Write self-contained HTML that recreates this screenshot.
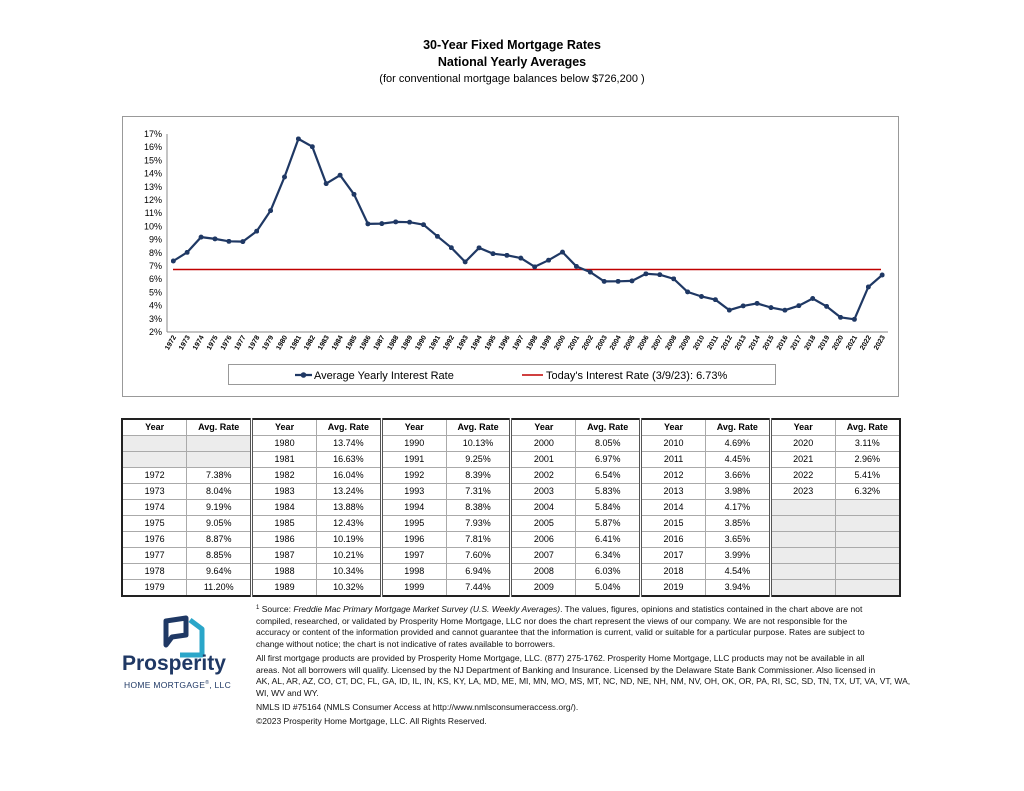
<!DOCTYPE html>
<html><head><meta charset="utf-8"><style>
body{margin:0;width:1024px;height:791px;background:#fff;position:relative;font-family:"Liberation Sans",sans-serif;color:#000;overflow:hidden}
.t{position:absolute;left:0;width:1024px;text-align:center}
table{position:absolute;left:121px;top:418px;border-collapse:collapse;border:2px solid #222;font-size:9px;table-layout:fixed;width:780px}
td{height:15px;line-height:15px;padding:0;text-align:center;border:1px solid #aaa;overflow:hidden;box-sizing:content-box}
td.g{border-left:3px double #555}
td.e{background:#ececec}
tr.h td{font-weight:bold}
.f{position:absolute;left:256px;font-size:8.5px;line-height:11.3px;color:#111;white-space:nowrap}
.f sup{font-size:6px;line-height:0;vertical-align:3px}
</style></head><body>
<div class="t" style="top:38px;font-size:12.5px;font-weight:bold">30-Year Fixed Mortgage Rates</div>
<div class="t" style="top:55px;font-size:12.5px;font-weight:bold">National Yearly Averages</div>
<div class="t" style="top:73px;font-size:11px">(for conventional mortgage balances below $726,200 )</div>

<svg style="position:absolute;left:0;top:0" width="1024" height="400">
<defs><marker id="m" viewBox="0 0 10 10" refX="5" refY="5" markerWidth="5" markerHeight="5" markerUnits="userSpaceOnUse"><circle cx="5" cy="5" r="5" fill="#1f3864"/></marker></defs>
<rect x="122.5" y="116.5" width="776" height="280" fill="#fff" stroke="#999"/>
<line x1="167" y1="134" x2="167" y2="332" stroke="#888"/>
<line x1="167" y1="332" x2="888" y2="332" stroke="#888"/>
<g font-size="9" text-anchor="end" fill="#000">
<text x="162" y="137">17%</text><text x="162" y="150">16%</text><text x="162" y="163.5">15%</text><text x="162" y="176.5">14%</text><text x="162" y="190">13%</text><text x="162" y="203">12%</text><text x="162" y="216">11%</text><text x="162" y="229.5">10%</text><text x="162" y="242.5">9%</text><text x="162" y="256">8%</text><text x="162" y="269">7%</text><text x="162" y="282">6%</text><text x="162" y="295.5">5%</text><text x="162" y="308.5">4%</text><text x="162" y="322">3%</text><text x="162" y="335">2%</text>
</g>
<line x1="173" y1="269.5" x2="881" y2="269.5" stroke="#c00000" stroke-width="1.6"/>
<g transform="translate(173.3,0)">
<polyline fill="none" stroke="#1f3864" stroke-width="2.2" marker-start="url(#m)" marker-mid="url(#m)" marker-end="url(#m)" points="0,261 13.9,252.3 27.8,237.1 41.7,238.9 55.6,241.3 69.5,241.6 83.4,231.2 97.3,210.6 111.2,177 125.1,138.9 139,146.7 152.9,183.6 166.8,175.2 180.7,194.3 194.6,223.9 208.5,223.6 222.4,221.9 236.3,222.2 250.2,224.7 264.1,236.3 278,247.7 291.9,261.9 305.8,247.8 319.7,253.7 333.6,255.3 347.5,258.1 361.4,266.8 375.3,260.2 389.2,252.1 403.1,266.4 417,272.1 430.9,281.4 444.8,281.3 458.7,280.9 472.6,273.8 486.5,274.7 500.4,278.8 514.3,291.9 528.2,296.5 542.1,299.7 556,310.1 569.9,305.9 583.8,303.4 597.7,307.6 611.6,310.2 625.5,305.7 639.4,298.5 653.3,306.4 667.2,317.3 681.1,319.3 695,287 708.9,275"/>
<g font-size="7" font-weight="bold" text-anchor="end">
<text transform="translate(3,337) rotate(-60)">1972</text><text transform="translate(16.9,337) rotate(-60)">1973</text><text transform="translate(30.8,337) rotate(-60)">1974</text><text transform="translate(44.7,337) rotate(-60)">1975</text><text transform="translate(58.6,337) rotate(-60)">1976</text><text transform="translate(72.5,337) rotate(-60)">1977</text><text transform="translate(86.4,337) rotate(-60)">1978</text><text transform="translate(100.3,337) rotate(-60)">1979</text><text transform="translate(114.2,337) rotate(-60)">1980</text><text transform="translate(128.1,337) rotate(-60)">1981</text><text transform="translate(142,337) rotate(-60)">1982</text><text transform="translate(155.9,337) rotate(-60)">1983</text><text transform="translate(169.8,337) rotate(-60)">1984</text><text transform="translate(183.7,337) rotate(-60)">1985</text><text transform="translate(197.6,337) rotate(-60)">1986</text><text transform="translate(211.5,337) rotate(-60)">1987</text><text transform="translate(225.4,337) rotate(-60)">1988</text><text transform="translate(239.3,337) rotate(-60)">1989</text><text transform="translate(253.2,337) rotate(-60)">1990</text><text transform="translate(267.1,337) rotate(-60)">1991</text><text transform="translate(281,337) rotate(-60)">1992</text><text transform="translate(294.9,337) rotate(-60)">1993</text><text transform="translate(308.8,337) rotate(-60)">1994</text><text transform="translate(322.7,337) rotate(-60)">1995</text><text transform="translate(336.6,337) rotate(-60)">1996</text><text transform="translate(350.5,337) rotate(-60)">1997</text><text transform="translate(364.4,337) rotate(-60)">1998</text><text transform="translate(378.3,337) rotate(-60)">1999</text><text transform="translate(392.2,337) rotate(-60)">2000</text><text transform="translate(406.1,337) rotate(-60)">2001</text><text transform="translate(420,337) rotate(-60)">2002</text><text transform="translate(433.9,337) rotate(-60)">2003</text><text transform="translate(447.8,337) rotate(-60)">2004</text><text transform="translate(461.7,337) rotate(-60)">2005</text><text transform="translate(475.6,337) rotate(-60)">2006</text><text transform="translate(489.5,337) rotate(-60)">2007</text><text transform="translate(503.4,337) rotate(-60)">2008</text><text transform="translate(517.3,337) rotate(-60)">2009</text><text transform="translate(531.2,337) rotate(-60)">2010</text><text transform="translate(545.1,337) rotate(-60)">2011</text><text transform="translate(559,337) rotate(-60)">2012</text><text transform="translate(572.9,337) rotate(-60)">2013</text><text transform="translate(586.8,337) rotate(-60)">2014</text><text transform="translate(600.7,337) rotate(-60)">2015</text><text transform="translate(614.6,337) rotate(-60)">2016</text><text transform="translate(628.5,337) rotate(-60)">2017</text><text transform="translate(642.4,337) rotate(-60)">2018</text><text transform="translate(656.3,337) rotate(-60)">2019</text><text transform="translate(670.2,337) rotate(-60)">2020</text><text transform="translate(684.1,337) rotate(-60)">2021</text><text transform="translate(698,337) rotate(-60)">2022</text><text transform="translate(711.9,337) rotate(-60)">2023</text>
</g></g>
<rect x="228.5" y="364.5" width="547" height="20" fill="#fff" stroke="#999"/>
<line x1="295" y1="375" x2="312" y2="375" stroke="#1f3864" stroke-width="2.2"/><circle cx="303.5" cy="375" r="2.8" fill="#1f3864"/>
<text x="314" y="379" font-size="11">Average Yearly Interest Rate</text>
<line x1="522" y1="375" x2="543" y2="375" stroke="#c00000" stroke-width="1.6"/>
<text x="546" y="379" font-size="11">Today's Interest Rate (3/9/23):  6.73%</text>
</svg>

<table>
<tr class="h"><td>Year</td><td>Avg. Rate</td><td class="g">Year</td><td>Avg. Rate</td><td class="g">Year</td><td>Avg. Rate</td><td class="g">Year</td><td>Avg. Rate</td><td class="g">Year</td><td>Avg. Rate</td><td class="g">Year</td><td>Avg. Rate</td></tr>
<tr><td class="e"></td><td class="e"></td><td class="g">1980</td><td>13.74%</td><td class="g">1990</td><td>10.13%</td><td class="g">2000</td><td>8.05%</td><td class="g">2010</td><td>4.69%</td><td class="g">2020</td><td>3.11%</td></tr>
<tr><td class="e"></td><td class="e"></td><td class="g">1981</td><td>16.63%</td><td class="g">1991</td><td>9.25%</td><td class="g">2001</td><td>6.97%</td><td class="g">2011</td><td>4.45%</td><td class="g">2021</td><td>2.96%</td></tr>
<tr><td>1972</td><td>7.38%</td><td class="g">1982</td><td>16.04%</td><td class="g">1992</td><td>8.39%</td><td class="g">2002</td><td>6.54%</td><td class="g">2012</td><td>3.66%</td><td class="g">2022</td><td>5.41%</td></tr>
<tr><td>1973</td><td>8.04%</td><td class="g">1983</td><td>13.24%</td><td class="g">1993</td><td>7.31%</td><td class="g">2003</td><td>5.83%</td><td class="g">2013</td><td>3.98%</td><td class="g">2023</td><td>6.32%</td></tr>
<tr><td>1974</td><td>9.19%</td><td class="g">1984</td><td>13.88%</td><td class="g">1994</td><td>8.38%</td><td class="g">2004</td><td>5.84%</td><td class="g">2014</td><td>4.17%</td><td class="g e"></td><td class="e"></td></tr>
<tr><td>1975</td><td>9.05%</td><td class="g">1985</td><td>12.43%</td><td class="g">1995</td><td>7.93%</td><td class="g">2005</td><td>5.87%</td><td class="g">2015</td><td>3.85%</td><td class="g e"></td><td class="e"></td></tr>
<tr><td>1976</td><td>8.87%</td><td class="g">1986</td><td>10.19%</td><td class="g">1996</td><td>7.81%</td><td class="g">2006</td><td>6.41%</td><td class="g">2016</td><td>3.65%</td><td class="g e"></td><td class="e"></td></tr>
<tr><td>1977</td><td>8.85%</td><td class="g">1987</td><td>10.21%</td><td class="g">1997</td><td>7.60%</td><td class="g">2007</td><td>6.34%</td><td class="g">2017</td><td>3.99%</td><td class="g e"></td><td class="e"></td></tr>
<tr><td>1978</td><td>9.64%</td><td class="g">1988</td><td>10.34%</td><td class="g">1998</td><td>6.94%</td><td class="g">2008</td><td>6.03%</td><td class="g">2018</td><td>4.54%</td><td class="g e"></td><td class="e"></td></tr>
<tr><td>1979</td><td>11.20%</td><td class="g">1989</td><td>10.32%</td><td class="g">1999</td><td>7.44%</td><td class="g">2009</td><td>5.04%</td><td class="g">2019</td><td>3.94%</td><td class="g e"></td><td class="e"></td></tr>
</table>

<svg style="position:absolute;left:160px;top:615px" width="90" height="80">
<path d="M6 30 L6 6 L26 3 L26 20 L12 22 Z" fill="none" stroke="#1f3864" stroke-width="5" stroke-linejoin="round"/>
<path d="M30 5 L42 14 L42 40 L20 40" fill="none" stroke="#2aa6c9" stroke-width="5" stroke-linejoin="round"/>
</svg>
<div style="position:absolute;left:122px;top:652px;font-size:21px;font-weight:bold;color:#1f3864">Prosperity</div>
<div style="position:absolute;left:124px;top:680px;font-size:8.5px;color:#1f3864;letter-spacing:0.3px">HOME MORTGAGE<sup style="font-size:5px">®</sup>, LLC</div>

<div class="f" style="top:604px"><sup>1</sup> Source: <i>Freddie Mac Primary Mortgage Market Survey (U.S. Weekly Averages)</i>. The values, figures, opinions and statistics contained in the chart above are not</div>
<div class="f" style="top:615.5px">compiled, researched, or validated by Prosperity Home Mortgage, LLC nor does the chart represent the views of our company. We are not responsible for the</div>
<div class="f" style="top:627px">accuracy or content of the information provided and cannot guarantee that the information is current, valid or suitable for a particular purpose. Rates are subject to</div>
<div class="f" style="top:638.5px">change without notice; the chart is not indicative of rates available to borrowers.</div>
<div class="f" style="top:653px">All first mortgage products are provided by Prosperity Home Mortgage, LLC. (877) 275-1762. Prosperity Home Mortgage, LLC products may not be available in all</div>
<div class="f" style="top:664.5px">areas. Not all borrowers will qualify. Licensed by the NJ Department of Banking and Insurance. Licensed by the Delaware State Bank Commissioner. Also licensed in</div>
<div class="f" style="top:676px">AK, AL, AR, AZ, CO, CT, DC, FL, GA, ID, IL, IN, KS, KY, LA, MD, ME, MI, MN, MO, MS, MT, NC, ND, NE, NH, NM, NV, OH, OK, OR, PA, RI, SC, SD, TN, TX, UT, VA, VT, WA,</div>
<div class="f" style="top:687.5px">WI, WV and WY.</div>
<div class="f" style="top:702px">NMLS ID #75164 (NMLS Consumer Access at http://www.nmlsconsumeraccess.org/).</div>
<div class="f" style="top:716px">©2023 Prosperity Home Mortgage, LLC. All Rights Reserved.</div>
</body></html>
